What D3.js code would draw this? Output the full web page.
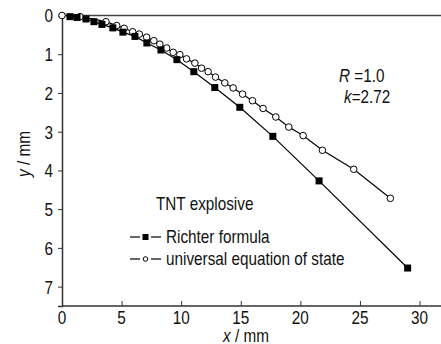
<!DOCTYPE html>
<html>
<head>
<meta charset="utf-8">
<script src="https://cdn.jsdelivr.net/npm/d3@7"></script>
<style>
body { margin: 0; background: #fff; }
text { font-family: "Liberation Sans", Arial, sans-serif; fill: #111; }
</style>
</head>
<body>
<div id="chart"></div>
<script>
// Richter formula (filled squares)
var richterX = [0.67, 1.26, 2.01, 2.68, 3.35, 4.27, 5.11, 6.12, 7.12, 8.30, 9.64, 11.06, 12.82, 14.92, 17.69, 21.57, 29.0];
var richterY = [0.03, 0.05, 0.09, 0.16, 0.23, 0.32, 0.43, 0.54, 0.71, 0.89, 1.14, 1.45, 1.86, 2.37, 3.12, 4.27, 6.52];

// universal equation of state (open circles)
var uesX = [0, 1.51, 3.69, 4.59, 5.22, 5.93, 6.48, 7.10, 7.71, 8.21, 8.78, 9.33, 9.89, 10.45, 11.15, 11.71, 12.26, 12.88, 13.66, 14.36, 15.15, 15.98, 16.87, 17.94, 19.03, 20.23, 21.85, 24.48, 27.55];
var uesY = [0, 0.03, 0.16, 0.26, 0.33, 0.42, 0.48, 0.56, 0.65, 0.74, 0.84, 0.95, 1.01, 1.12, 1.23, 1.36, 1.45, 1.59, 1.74, 1.87, 2.03, 2.20, 2.40, 2.62, 2.88, 3.10, 3.48, 3.97, 4.72];

var xTicks = [0, 5, 10, 15, 20, 25, 30];
var yTicks = [0, 1, 2, 3, 4, 5, 6, 7];
var seriesNames = ["Richter formula", "universal equation of state"];

var width = 441, height = 344;
var margin = {top: 15.5, right: 0, bottom: 38, left: 62};
var squeeze = 0.85; // the original font is a narrow sans

var svg = d3.select("#chart").append("svg")
    .attr("width", width).attr("height", height);

// squeeze text horizontally around its anchor point
function narrow(sel) {
    sel.each(function() {
        var ax = +d3.select(this).attr("x") || 0;
        d3.select(this).attr("transform",
            "translate(" + ax + ",0) scale(" + squeeze + ",1) translate(" + (-ax) + ",0)");
    });
}

var x = d3.scaleLinear().domain([0, 31.8]).range([margin.left, width - margin.right]);
var y = d3.scaleLinear().domain([0, 7.5]).range([margin.top, height - margin.bottom]);

// axes
var xAxis = svg.append("g")
    .attr("transform", "translate(0," + y(7.5) + ")")
    .call(d3.axisTop(x).tickValues(xTicks).tickSize(5).tickPadding(0));
xAxis.selectAll("text").remove();
xAxis.selectAll("text.lab").data(xTicks).enter().append("text")
    .attr("class", "lab")
    .attr("x", function(d) { return x(d); })
    .attr("y", 18)
    .attr("text-anchor", "middle")
    .attr("font-size", 18)
    .text(function(d) { return d; })
    .call(narrow);

var yAxis = svg.append("g")
    .attr("transform", "translate(" + x(0) + ",0)")
    .call(d3.axisLeft(y).tickValues(yTicks).tickSize(4).tickPadding(5));
yAxis.selectAll("text").attr("font-size", 18).attr("dy", "0.36em").call(narrow);

svg.selectAll(".domain").attr("stroke", "#333").attr("stroke-width", 1.5);
svg.selectAll(".tick line").attr("stroke", "#333");
xAxis.select(".domain").attr("d", "M" + x(0) + ",0H" + width);

// zero line at top
svg.append("line")
    .attr("x1", x(0)).attr("x2", width)
    .attr("y1", y(0)).attr("y2", y(0))
    .attr("stroke", "#444").attr("stroke-width", 1.5);

// axis titles
var xt = svg.append("text")
    .attr("x", 246).attr("y", 342)
    .attr("text-anchor", "middle")
    .attr("font-size", 18);
xt.append("tspan").attr("font-style", "italic").text("x");
xt.append("tspan").text(" / mm");
xt.call(narrow);

var yt = svg.append("text")
    .attr("transform", "translate(30,154) rotate(-90) scale(" + squeeze + ",1)")
    .attr("text-anchor", "middle")
    .attr("font-size", 18);
yt.append("tspan").attr("font-style", "italic").text("y");
yt.append("tspan").text(" / mm");

// series
var richter = richterX.map(function(d, i) { return [d, richterY[i]]; });
var ues = uesX.map(function(d, i) { return [d, uesY[i]]; });
var line = d3.line().x(function(d) { return x(d[0]); }).y(function(d) { return y(d[1]); });

svg.append("path").datum(ues).attr("d", line)
    .attr("fill", "none").attr("stroke", "#000").attr("stroke-width", 1.2);
svg.append("path").datum(richter).attr("d", line)
    .attr("fill", "none").attr("stroke", "#000").attr("stroke-width", 1.2);

svg.selectAll("circle.ues").data(ues).enter().append("circle")
    .attr("class", "ues")
    .attr("cx", function(d) { return x(d[0]); })
    .attr("cy", function(d) { return y(d[1]); })
    .attr("r", 3.3)
    .attr("fill", "#fff").attr("stroke", "#000").attr("stroke-width", 1);

svg.selectAll("rect.rich").data(richter).enter().append("rect")
    .attr("class", "rich")
    .attr("x", function(d) { return x(d[0]) - 3.5; })
    .attr("y", function(d) { return y(d[1]) - 3.5; })
    .attr("width", 7).attr("height", 7)
    .attr("fill", "#000");

// annotation
var r = svg.append("text").attr("x", 339).attr("y", 82).attr("font-size", 18);
r.append("tspan").attr("font-style", "italic").text("R");
r.append("tspan").text(" =1.0");
r.call(narrow);
var k = svg.append("text").attr("x", 344).attr("y", 103).attr("font-size", 18);
k.append("tspan").attr("font-style", "italic").text("k");
k.append("tspan").text("=2.72");
k.call(narrow);

// legend
svg.append("text").attr("x", 156).attr("y", 210).attr("font-size", 18)
    .text("TNT explosive").call(narrow);
var leg = svg.selectAll("g.leg").data(seriesNames).enter().append("g")
    .attr("class", "leg")
    .attr("transform", function(d, i) { return "translate(130," + (237 + i * 22) + ")"; });
leg.append("line").attr("x1", 0).attr("x2", 10).attr("stroke", "#000").attr("stroke-width", 1.2);
leg.append("line").attr("x1", 21).attr("x2", 31).attr("stroke", "#000").attr("stroke-width", 1.2);
leg.filter(function(d, i) { return i === 0; }).append("rect")
    .attr("x", 12.5).attr("y", -3).attr("width", 6).attr("height", 6).attr("fill", "#000");
leg.filter(function(d, i) { return i === 1; }).append("circle")
    .attr("cx", 15.5).attr("cy", 0).attr("r", 2.3)
    .attr("fill", "#fff").attr("stroke", "#000").attr("stroke-width", 1);
leg.append("text").attr("x", 36).attr("y", 6).attr("font-size", 18)
    .text(function(d) { return d; })
    .call(narrow);
</script>
</body>
</html>
